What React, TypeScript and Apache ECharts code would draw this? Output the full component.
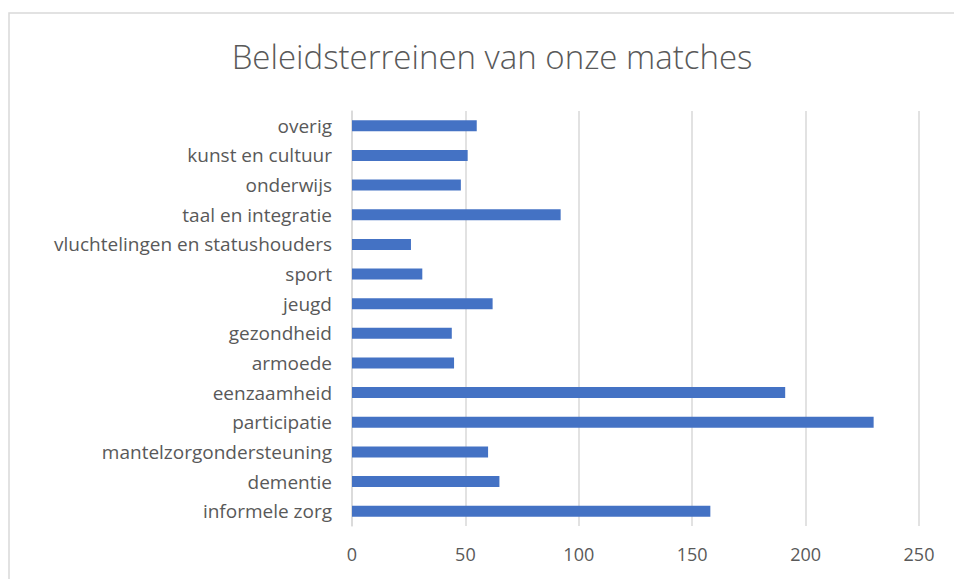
import React, { useEffect, useRef } from "react";
import * as echarts from "echarts";

const titleText = "Beleidsterreinen van onze matches";
const categories = [
  "overig",
  "kunst en cultuur",
  "onderwijs",
  "taal en integratie",
  "vluchtelingen en statushouders",
  "sport",
  "jeugd",
  "gezondheid",
  "armoede",
  "eenzaamheid",
  "participatie",
  "mantelzorgondersteuning",
  "dementie",
  "informele zorg",
];
const values = [55, 51, 48, 92, 26, 31, 62, 44, 45, 191, 230, 60, 65, 158];
const xMin = 0;
const xMax = 250;
const xInterval = 50;

export default function App() {
  const ref = useRef<HTMLDivElement>(null);
  useEffect(() => {
    if (!ref.current) return;
    const chart = echarts.init(ref.current, undefined, { renderer: "svg" });
    const font = "'Open Sans', 'Noto Sans', sans-serif";
    chart.setOption({
      animation: false,
      backgroundColor: "#ffffff",
      title: {
        text: titleText,
        left: 487,
        top: 35,
        textAlign: "center",
        textStyle: {
          fontFamily: font,
          fontSize: 33,
          fontWeight: 300,
          color: "#595959",
        },
      },
      graphic: [
        {
          type: "rect",
          shape: { x: 9, y: 13, width: 1000, height: 700 },
          style: { fill: "none", stroke: "#d9d9d9", lineWidth: 1.5 },
          silent: true,
        },
      ],
      grid: { left: 352, right: 35, top: 111, bottom: 53, containLabel: false },
      xAxis: {
        type: "value",
        min: xMin,
        max: xMax,
        interval: xInterval,
        axisLine: { show: false },
        axisTick: { show: false },
        splitLine: { lineStyle: { color: "#d9d9d9", width: 1.5 } },
        axisLabel: {
          fontFamily: font,
          fontSize: 18,
          color: "#595959",
          margin: 19,
        },
      },
      yAxis: {
        type: "category",
        data: categories,
        inverse: true,
        axisLine: { show: true, lineStyle: { color: "#d9d9d9", width: 1.5 } },
        axisTick: { show: false },
        axisLabel: {
          fontFamily: font,
          fontSize: 19,
          color: "#595959",
          margin: 20,
        },
      },
      series: [
        {
          type: "bar",
          data: values,
          barWidth: 11,
          itemStyle: { color: "#4472C4" },
        },
      ],
    });
    return () => chart.dispose();
  }, []);
  return (
    <div
      ref={ref}
      style={{ position: "fixed", left: 0, top: 0, width: 954, height: 579 }}
    />
  );
}
